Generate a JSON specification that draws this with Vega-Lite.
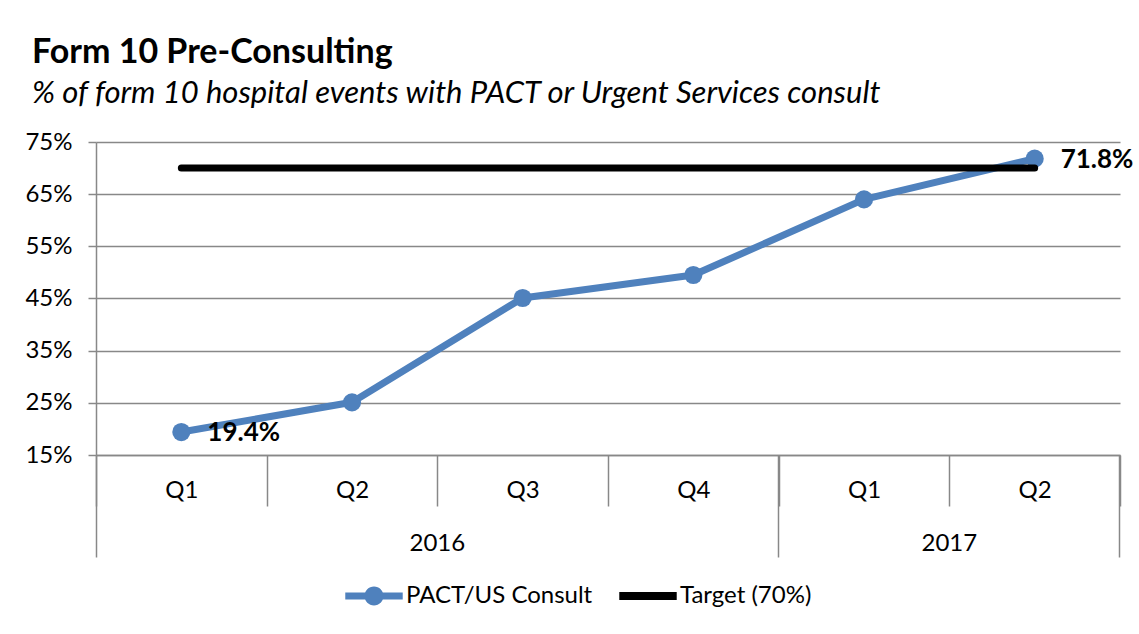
{
  "$schema": "https://vega.github.io/schema/vega-lite/v6.json",
  "width": 1024,
  "height": 313,
  "autosize": {"type": "none"},
  "padding": {"left": 96, "top": 142, "right": 19, "bottom": 179},
  "background": "white",
  "title": {
    "text": "Form 10 Pre-Consulting",
    "subtitle": "% of form 10 hospital events with PACT or Urgent Services consult",
    "anchor": "start",
    "frame": "group",
    "dx": -64,
    "offset": 21,
    "font": "Lato",
    "fontSize": 34,
    "fontWeight": "bold",
    "color": "#000000",
    "subtitleFont": "Lato",
    "subtitleFontSize": 31,
    "subtitleFontStyle": "italic",
    "subtitleColor": "#000000",
    "subtitlePadding": 9
  },
  "data": {
    "values": [
      {"period": "2016 Q1", "pct": 0.194, "target": 0.70},
      {"period": "2016 Q2", "pct": 0.251, "target": 0.70},
      {"period": "2016 Q3", "pct": 0.451, "target": 0.70},
      {"period": "2016 Q4", "pct": 0.495, "target": 0.70},
      {"period": "2017 Q1", "pct": 0.640, "target": 0.70},
      {"period": "2017 Q2", "pct": 0.718, "target": 0.70}
    ]
  },
  "resolve": {"scale": {"x": "shared", "y": "shared"}, "axis": {"x": "independent"}},
  "layer": [
    {
      "mark": {"type": "line", "strokeWidth": 7, "strokeJoin": "round"},
      "encoding": {
        "x": {
          "field": "period", "type": "nominal", "sort": null, "bandPosition": 0.5,
          "scale": {"type": "band", "paddingInner": 0, "paddingOuter": 0, "domain": ["2016 Q1","2016 Q2","2016 Q3","2016 Q4","2017 Q1","2017 Q2"]},
          "axis": {"orient": "bottom", "title": null, "labelAngle": 0, "labelExpr": "substring(datum.label, 5)", "tickBand": "extent", "tickSize": 51, "labelPadding": -28, "grid": false, "domain": true}
        },
        "y": {
          "field": "pct", "type": "quantitative",
          "scale": {"domain": [0.15, 0.75], "nice": false, "zero": false},
          "axis": {"title": null, "values": [0.15, 0.25, 0.35, 0.45, 0.55, 0.65, 0.75], "format": ".0%", "grid": true, "tickSize": 8, "labelPadding": 16, "domain": true}
        },
        "color": {
          "datum": "PACT/US Consult",
          "scale": {"domain": ["PACT/US Consult", "Target (70%)"], "range": ["#4F81BD", "#000000"]},
          "legend": {
            "title": null,
            "orient": "none",
            "direction": "horizontal",
            "legendX": 249,
            "legendY": 425,
            "padding": 0,
            "symbolSize": 3300,
            "symbolType": "M-1,-0.125H1V0.125H-1Z",
            "labelFont": "Lato",
            "labelFontSize": 24,
            "labelColor": "#000000",
            "labelOffset": 3,
            "labelLimit": 400,
            "columnPadding": 26,
            "encode": {
              "symbols": {
                "update": {
                  "shape": {"signal": "datum.value === 'Target (70%)' ? 'M-1,-0.14H1V0.14H-1Z' : 'M-1,-0.125H1V0.125H-1Z M0.33,0A0.33,0.33,0,1,1,-0.33,0A0.33,0.33,0,1,1,0.33,0Z'"},
                  "fill": {"signal": "datum.value === 'Target (70%)' ? '#000000' : '#4F81BD'"},
                  "stroke": {"value": "transparent"},
                  "strokeWidth": {"value": 0},
                  "opacity": {"value": 1}
                }
              }
            }
          }
        }
      }
    },
    {
      "mark": {"type": "point", "filled": true, "size": 330, "opacity": 1, "shape": "circle"},
      "encoding": {
        "x": {
          "field": "period", "type": "nominal", "sort": null, "bandPosition": 0.5,
          "scale": {"type": "band", "paddingInner": 0, "paddingOuter": 0, "domain": ["2016 Q1","2016 Q2","2016 Q3","2016 Q4","2017 Q1","2017 Q2"]},
          "axis": {"orient": "bottom", "title": null, "values": ["2016 Q1"], "bandPosition": 0, "tickSize": 102, "labels": false, "domain": false, "grid": false}
        },
        "y": {"field": "pct", "type": "quantitative"},
        "color": {"datum": "PACT/US Consult"}
      }
    },
    {
      "mark": {"type": "line", "strokeWidth": 7, "strokeCap": "round"},
      "encoding": {
        "x": {
          "field": "period", "type": "nominal", "sort": null, "bandPosition": 0.5,
          "scale": {"type": "band", "paddingInner": 0, "paddingOuter": 0, "domain": ["2016 Q1","2016 Q2","2016 Q3","2016 Q4","2017 Q1","2017 Q2"]},
          "axis": {"orient": "bottom", "title": null, "values": ["2016 Q4", "2017 Q2"], "bandPosition": 1, "tickSize": 102, "labels": false, "domain": false, "grid": false}
        },
        "y": {"field": "target", "type": "quantitative"},
        "color": {"datum": "Target (70%)"}
      }
    },
    {
      "transform": [{"filter": "datum.period === '2016 Q1' || datum.period === '2017 Q2'"}],
      "mark": {"type": "text", "align": "left", "baseline": "middle", "dx": 26, "dy": 1, "font": "Lato", "fontSize": 26, "fontWeight": "bold", "color": "#000000"},
      "encoding": {
        "x": {
          "field": "period", "type": "nominal", "sort": null, "bandPosition": 0.5,
          "scale": {"type": "band", "paddingInner": 0, "paddingOuter": 0, "domain": ["2016 Q1","2016 Q2","2016 Q3","2016 Q4","2017 Q1","2017 Q2"]},
          "axis": {"orient": "bottom", "title": null, "values": ["2016 Q3", "2017 Q2"], "labelExpr": "substring(datum.label, 0, 4)", "labelAngle": 0, "labelOffset": -85.33, "ticks": false, "domain": false, "grid": false, "labelPadding": 76}
        },
        "y": {"field": "pct", "type": "quantitative"},
        "text": {"field": "pct", "type": "quantitative", "format": ".1%"}
      }
    }
  ],
  "config": {
    "view": {"stroke": null},
    "axis": {
      "labelFont": "Lato",
      "labelFontSize": 24,
      "labelColor": "#000000",
      "domainColor": "#888888",
      "domainWidth": 1.5,
      "tickColor": "#888888",
      "tickWidth": 1.5,
      "gridColor": "#888888",
      "gridWidth": 1.5,
      "gridOpacity": 1
    }
  }
}
